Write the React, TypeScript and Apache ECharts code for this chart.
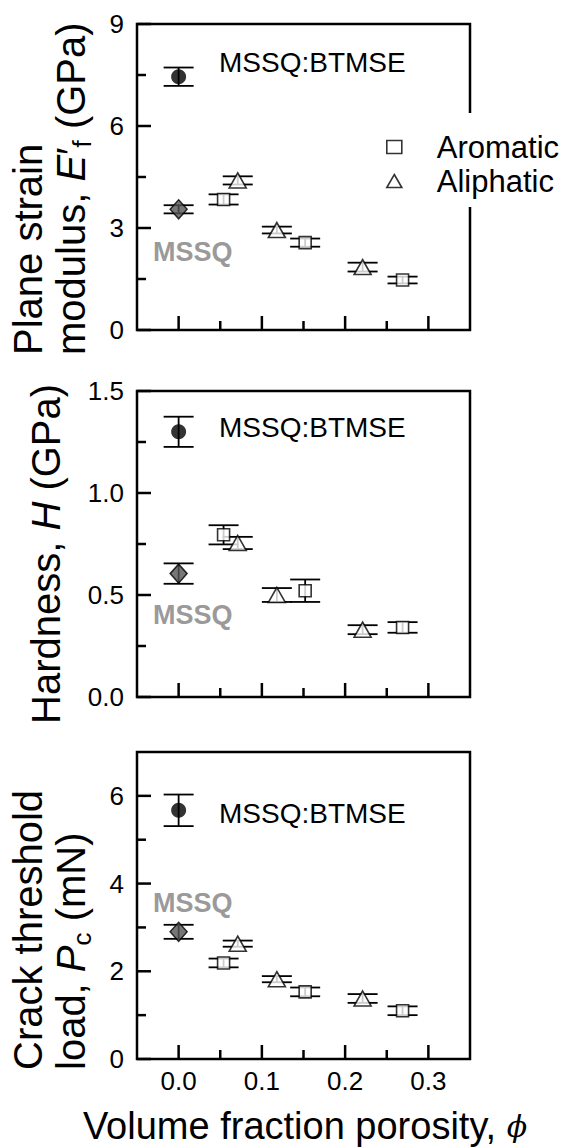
import React, { useEffect, useRef } from "react";
import * as echarts from "echarts";

// ---- data ----
const phiPure = [0.0];
const phiAromatic = [0.054, 0.152, 0.269];
const phiAliphatic = [0.071, 0.118, 0.221];

// Plane strain modulus (GPa)
const modulusBtmse = [7.45];
const modulusBtmseErr = [0.27];
const modulusMssq = [3.55];
const modulusMssqErr = [0.12];
const modulusAromatic = [3.84, 2.57, 1.47];
const modulusAromaticErr = [0.15, 0.12, 0.1];
const modulusAliphatic = [4.4, 2.94, 1.85];
const modulusAliphaticErr = [0.12, 0.1, 0.13];

// Hardness (GPa)
const hardBtmse = [1.3];
const hardBtmseErr = [0.074];
const hardMssq = [0.605];
const hardMssqErr = [0.05];
const hardAromatic = [0.795, 0.521, 0.341];
const hardAromaticErr = [0.047, 0.055, 0.026];
const hardAliphatic = [0.755, 0.5, 0.33];
const hardAliphaticErr = [0.03, 0.034, 0.022];

// Crack threshold load (mN)
const crackBtmse = [5.67];
const crackBtmseErr = [0.36];
const crackMssq = [2.9];
const crackMssqErr = [0.16];
const crackAromatic = [2.19, 1.53, 1.1];
const crackAromaticErr = [0.1, 0.1, 0.1];
const crackAliphatic = [2.63, 1.82, 1.38];
const crackAliphaticErr = [0.07, 0.07, 0.1];

// ticks
const xRange = [-0.05, 0.35];
const xMajorTicks = [0, 0.1, 0.2, 0.3];
const xMinorTicks = [0.05, 0.15, 0.25];
const modulusRange = [0, 9];
const modulusMajorTicks = [0, 3, 6, 9];
const modulusMinorTicks = [1.5, 4.5, 7.5];
const hardRange = [0, 1.5];
const hardMajorTicks = [0, 0.5, 1.0, 1.5];
const hardMinorTicks = [0.25, 0.75, 1.25];
const crackRange = [0, 7];
const crackMajorTicks = [0, 2, 4, 6];
const crackMinorTicks = [1, 3, 5];

const legendNames = ["Aromatic", "Aliphatic"];
const FONT = "'Liberation Sans', Arial, Helvetica, sans-serif";

const zip = (xs: number[], ys: number[]) => ys.map((y, i) => [xs[i], y]);
const zip3 = (xs: number[], ys: number[], es: number[]) =>
  ys.map((y, i) => [xs[i], y, es[i]]);

export default function App() {
  const ref = useRef<HTMLDivElement>(null);

  useEffect(() => {
    if (!ref.current) return;
    const chart = echarts.init(ref.current, null, { renderer: "svg" });

    const panels = [
      {
        top: 24, height: 306, yRange: modulusRange, yMajor: modulusMajorTicks, yMinor: modulusMinorTicks,
        fmt: (v: number) => String(v), showX: false, gap: [113, 207],
        btmse: modulusBtmse, btmseErr: modulusBtmseErr, mssq: modulusMssq, mssqErr: modulusMssqErr,
        aro: modulusAromatic, aroErr: modulusAromaticErr, ali: modulusAliphatic, aliErr: modulusAliphaticErr,
      },
      {
        top: 391, height: 306, yRange: hardRange, yMajor: hardMajorTicks, yMinor: hardMinorTicks,
        fmt: (v: number) => v.toFixed(1), showX: false, gap: null,
        btmse: hardBtmse, btmseErr: hardBtmseErr, mssq: hardMssq, mssqErr: hardMssqErr,
        aro: hardAromatic, aroErr: hardAromaticErr, ali: hardAliphatic, aliErr: hardAliphaticErr,
      },
      {
        top: 752, height: 307, yRange: crackRange, yMajor: crackMajorTicks, yMinor: crackMinorTicks,
        fmt: (v: number) => String(v), showX: true, gap: null,
        btmse: crackBtmse, btmseErr: crackBtmseErr, mssq: crackMssq, mssqErr: crackMssqErr,
        aro: crackAromatic, aroErr: crackAromaticErr, ali: crackAliphatic, aliErr: crackAliphaticErr,
      },
    ];

    const grids: any[] = [];
    const xAxes: any[] = [];
    const yAxes: any[] = [];
    const series: any[] = [];
    const LW = 2.5;

    const errRender = (params: any, api: any) => {
      const x = api.value(0);
      const y = api.value(1);
      const e = api.value(2);
      const t = api.coord([x, y + e]);
      const b = api.coord([x, y - e]);
      const hw = 15;
      return {
        type: "group",
        children: [
          { type: "line", shape: { x1: t[0], y1: t[1], x2: b[0], y2: b[1] }, style: { stroke: "#000", lineWidth: 1.8 } },
          { type: "line", shape: { x1: t[0] - hw, y1: t[1], x2: t[0] + hw, y2: t[1] }, style: { stroke: "#000", lineWidth: 1.8 } },
          { type: "line", shape: { x1: b[0] - hw, y1: b[1], x2: b[0] + hw, y2: b[1] }, style: { stroke: "#000", lineWidth: 1.8 } },
        ],
      };
    };

    // tick kinds: 0 x-major, 1 x-minor, 2 y-major, 3 y-minor
    const tickRender = (params: any, api: any) => {
      const cs = params.coordSys;
      const kind = api.value(2);
      const pt = api.coord([api.value(0), api.value(1)]);
      if (kind < 2) {
        const B = cs.y + cs.height;
        const len = kind === 0 ? 14 : 9;
        return { type: "line", shape: { x1: pt[0], y1: B, x2: pt[0], y2: B - len }, style: { stroke: "#000", lineWidth: LW } };
      }
      const L = cs.x;
      const len = kind === 2 ? 14 : 9;
      return { type: "line", shape: { x1: L, y1: pt[1], x2: L + len, y2: pt[1] }, style: { stroke: "#000", lineWidth: LW } };
    };

    const frameRender = (gap: number[] | null) => (params: any, api: any) => {
      const cs = params.coordSys;
      const L = cs.x, T = cs.y, R = cs.x + cs.width, B = cs.y + cs.height;
      const st = { stroke: "#000", lineWidth: LW, fill: "none", lineJoin: "miter" };
      if (!gap) {
        return { type: "polygon", shape: { points: [[L, T], [R, T], [R, B], [L, B]] }, style: st };
      }
      return {
        type: "group",
        children: [
          { type: "polyline", shape: { points: [[R, gap[0]], [R, T], [L, T], [L, B], [R, B], [R, gap[1]]] }, style: st },
        ],
      };
    };

    panels.forEach((p, i) => {
      grids.push({ left: 137, top: p.top, width: 333, height: p.height });
      xAxes.push({
        gridIndex: i, type: "value", min: xRange[0], max: xRange[1], position: "bottom",
        splitLine: { show: false }, axisLine: { show: false, onZero: false }, axisTick: { show: false },
        axisLabel: {
          show: p.showX, customValues: xMajorTicks, margin: 9, color: "#000", fontSize: 26, fontFamily: FONT,
          formatter: (v: number) => v.toFixed(1),
        },
      });
      yAxes.push({
        gridIndex: i, type: "value", min: p.yRange[0], max: p.yRange[1], position: "left",
        splitLine: { show: false }, axisLine: { show: false, onZero: false }, axisTick: { show: false },
        axisLabel: {
          show: true, customValues: p.yMajor, margin: 13, color: "#000", fontSize: 26, fontFamily: FONT, formatter: p.fmt,
        },
      });

      const tickData = [
        ...xMajorTicks.map((v) => [v, p.yRange[0], 0]),
        ...xMinorTicks.map((v) => [v, p.yRange[0], 1]),
        ...p.yMajor.map((v) => [xRange[0], v, 2]),
        ...p.yMinor.map((v) => [xRange[0], v, 3]),
      ];
      series.push({
        type: "custom", name: "ticks" + i, xAxisIndex: i, yAxisIndex: i, z: 4, silent: true, clip: false,
        renderItem: tickRender, data: tickData,
      });
      series.push({
        type: "custom", name: "frame" + i, xAxisIndex: i, yAxisIndex: i, z: 4, silent: true, clip: false,
        renderItem: frameRender(p.gap), data: [[xRange[0], p.yRange[0]]],
      });

      const errData = [
        ...zip3(phiPure, p.btmse, p.btmseErr),
        ...zip3(phiPure, p.mssq, p.mssqErr),
        ...zip3(phiAromatic, p.aro, p.aroErr),
        ...zip3(phiAliphatic, p.ali, p.aliErr),
      ];
      series.push({
        type: "custom", name: "err" + i, xAxisIndex: i, yAxisIndex: i, z: 1,
        renderItem: errRender, data: errData, silent: true,
      });
      series.push({
        type: "scatter", name: "MSSQ:BTMSE", xAxisIndex: i, yAxisIndex: i, z: 3,
        symbol: "circle", symbolSize: 15, itemStyle: { color: "#000" }, data: zip(phiPure, p.btmse),
      });
      series.push({
        type: "scatter", name: "MSSQ", xAxisIndex: i, yAxisIndex: i, z: 3,
        symbol: "diamond", symbolSize: [17, 19], itemStyle: { color: "#555", borderColor: "#000", borderWidth: 1.5 },
        data: zip(phiPure, p.mssq),
      });
      series.push({
        type: "scatter", name: "Aromatic", xAxisIndex: i, yAxisIndex: i, z: 3,
        symbol: "rect", symbolSize: 12, itemStyle: { color: "#fff", borderColor: "#000", borderWidth: 1.6 },
        data: zip(phiAromatic, p.aro),
      });
      series.push({
        type: "scatter", name: "Aliphatic", xAxisIndex: i, yAxisIndex: i, z: 3,
        symbol: "triangle", symbolSize: [17, 15], itemStyle: { color: "#fff", borderColor: "#000", borderWidth: 1.6 },
        data: zip(phiAliphatic, p.ali),
      });
    });

    const txt = (x: number, y: number, text: string, extra: any = {}) => ({
      type: "text", x, y, z: 10,
      style: { text, fill: "#000", fontSize: 28, fontFamily: FONT, align: "left", verticalAlign: "middle", ...extra },
    });

    const titleRich = {
      n: { fontSize: 40, fontFamily: FONT, lineHeight: 48, verticalAlign: "middle" },
      i: { fontSize: 40, fontFamily: FONT, fontStyle: "italic", lineHeight: 48, verticalAlign: "middle" },
      s: { fontSize: 26, fontFamily: FONT, lineHeight: 26, verticalAlign: "bottom" },
    };
    const yTitle = (x: number, y: number, text: string) => ({
      type: "text", x, y, rotation: Math.PI / 2, z: 10,
      style: { text, fill: "#000", align: "left", verticalAlign: "middle", rich: titleRich },
    });

    const graphic: any[] = [
      txt(219, 62, "MSSQ:BTMSE"),
      txt(219, 427, "MSSQ:BTMSE"),
      txt(219, 813, "MSSQ:BTMSE"),
      txt(153, 252, "MSSQ", { fontWeight: "bold", fontSize: 27, fill: "#9a9a9a" }),
      txt(153, 615, "MSSQ", { fontWeight: "bold", fontSize: 27, fill: "#9a9a9a" }),
      txt(153, 903, "MSSQ", { fontWeight: "bold", fontSize: 27, fill: "#9a9a9a" }),
      yTitle(28, 355, "{n|Plane strain}"),
      yTitle(71, 355, "{n|modulus, }{i|E}{n|′}{s|f}{n| (GPa)}"),
      yTitle(46, 724, "{n|Hardness, }{i|H}{n| (GPa)}"),
      yTitle(28, 1070, "{n|Crack threshold}"),
      yTitle(71, 1070, "{n|load, }{i|P}{s|c}{n| (mN)}"),
      {
        type: "text", x: 305, y: 1126, z: 10,
        style: {
          text: "{n|Volume fraction porosity, }{p|ϕ}",
          fill: "#000", align: "center", verticalAlign: "middle",
          rich: {
            n: { fontSize: 38, fontFamily: FONT, verticalAlign: "middle" },
            p: { fontSize: 30, fontFamily: "'DejaVu Serif', serif", fontStyle: "italic", verticalAlign: "middle" },
          },
        },
      },
    ];

    chart.setOption({
      animation: false,
      backgroundColor: "#fff",
      grid: grids,
      xAxis: xAxes,
      yAxis: yAxes,
      series,
      legend: {
        show: true, orient: "vertical", left: 386, top: 130, padding: 0, itemGap: 0,
        itemWidth: 15, itemHeight: 13, selectedMode: false, z: 6,
        data: [
          { name: legendNames[0], icon: "rect", itemStyle: { color: "#fff", borderColor: "#000", borderWidth: 1.6 } },
          { name: legendNames[1], icon: "triangle", itemStyle: { color: "#fff", borderColor: "#000", borderWidth: 1.6 } },
        ],
        textStyle: { fontSize: 31, fontFamily: FONT, color: "#000", lineHeight: 34, padding: [0, 0, 0, 30] },
      },
      graphic,
    });

    return () => chart.dispose();
  }, []);

  return (
    <div
      ref={ref}
      style={{ position: "fixed", left: 0, top: 0, width: 564, height: 1147, background: "#fff" }}
    />
  );
}
